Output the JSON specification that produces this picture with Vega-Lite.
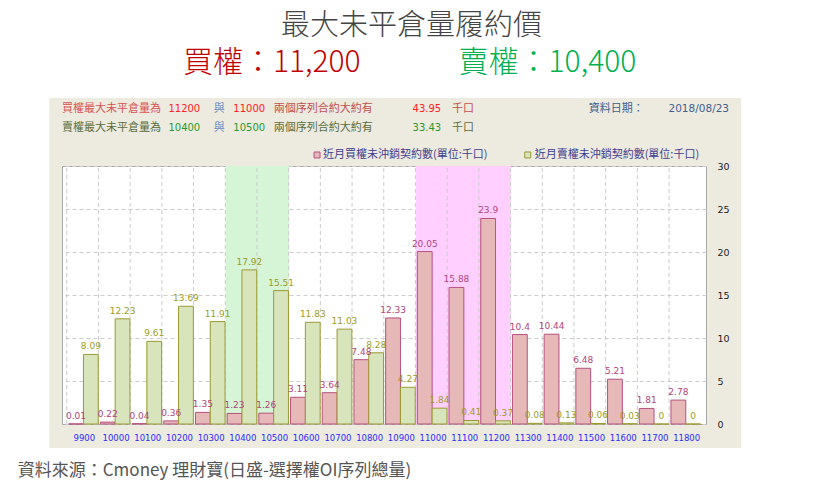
{
  "$schema": "https://vega.github.io/schema/vega-lite/v6.json",
  "width": 644,
  "height": 258,
  "autosize": {"type": "none"},
  "padding": {"left": 62, "top": 166, "right": 114, "bottom": 71},
  "background": "#EDEAE0",
  "view": {"fill": "white", "stroke": "#a8a8a8"},
  "data": {
    "values": [
      {"strike": 9900, "call": 0.01, "put": 8.09},
      {"strike": 10000, "call": 0.22, "put": 12.23},
      {"strike": 10100, "call": 0.04, "put": 9.61},
      {"strike": 10200, "call": 0.36, "put": 13.69},
      {"strike": 10300, "call": 1.35, "put": 11.91},
      {"strike": 10400, "call": 1.23, "put": 17.92},
      {"strike": 10500, "call": 1.26, "put": 15.51},
      {"strike": 10600, "call": 3.11, "put": 11.83},
      {"strike": 10700, "call": 3.64, "put": 11.03},
      {"strike": 10800, "call": 7.48, "put": 8.28},
      {"strike": 10900, "call": 12.33, "put": 4.27},
      {"strike": 11000, "call": 20.05, "put": 1.84},
      {"strike": 11100, "call": 15.88, "put": 0.41},
      {"strike": 11200, "call": 23.9, "put": 0.37},
      {"strike": 11300, "call": 10.4, "put": 0.08},
      {"strike": 11400, "call": 10.44, "put": 0.13},
      {"strike": 11500, "call": 6.48, "put": 0.06},
      {"strike": 11600, "call": 5.21, "put": 0.03},
      {"strike": 11700, "call": 1.81, "put": 0},
      {"strike": 11800, "call": 2.78, "put": 0}
    ]
  },
  "layer": [
    {
      "data": {"values": [{}]},
      "mark": {"type": "rect", "color": "white"},
      "encoding": {"x": {"datum": 9600}, "x2": {"datum": 12300}, "y": {"datum": 37.91}, "y2": {"datum": 50}}
    },
    {
      "data": {"values": [{}]},
      "mark": {"type": "rect", "color": "white"},
      "encoding": {"x": {"datum": 9600}, "x2": {"datum": 12300}, "y": {"datum": -2.79}, "y2": {"datum": -9}}
    },
    {
      "data": {"values": [{}]},
      "mark": {"type": "rect", "color": "white"},
      "encoding": {"x": {"datum": 9600}, "x2": {"datum": 9794}, "y": {"datum": -2.79}, "y2": {"datum": 37.91}}
    },
    {
      "data": {"values": [{}]},
      "mark": {"type": "rect", "color": "white"},
      "encoding": {"x": {"datum": 11977}, "x2": {"datum": 12300}, "y": {"datum": -2.79}, "y2": {"datum": 37.91}}
    },
    {
      "data": {"values": [{}]},
      "mark": {"type": "rect", "color": "#d6f5d6"},
      "encoding": {"x": {"datum": 10350}, "x2": {"datum": 10550}, "y": {"datum": 0}, "y2": {"datum": 30}}
    },
    {
      "data": {"values": [{}]},
      "mark": {"type": "rect", "color": "#ffd0ff"},
      "encoding": {"x": {"datum": 10950}, "x2": {"datum": 11250}, "y": {"datum": 0}, "y2": {"datum": 30}}
    },
    {
      "mark": {"type": "rule", "xOffset": -16.1, "color": "#cccccc", "strokeDash": [4, 3], "strokeWidth": 1},
      "encoding": {
        "x": {"field": "strike", "type": "quantitative"},
        "y": {"datum": 0},
        "y2": {"datum": 30}
      }
    },
    {
      "mark": {"type": "bar", "size": 14.8, "xOffset": -6.8, "fill": "#e6b9b8", "stroke": "#b5507e", "strokeWidth": 1},
      "encoding": {
        "x": {
          "field": "strike",
          "type": "quantitative",
          "title": null,
          "scale": {"domain": [9850, 11850], "nice": false, "zero": false},
          "axis": {"labels": false, "ticks": false, "domain": false, "grid": false}
        },
        "y": {
          "field": "call",
          "type": "quantitative",
          "title": null,
          "scale": {"domain": [0, 30], "nice": false},
          "axis": {
            "orient": "right",
            "values": [0, 5, 10, 15, 20, 25, 30],
            "grid": true,
            "gridDash": [4, 3],
            "gridColor": "#cccccc",
            "ticks": false,
            "domain": false,
            "labelFont": "DejaVu Sans",
            "labelFontSize": 9.5,
            "labelColor": "#222222",
            "labelPadding": 11,
            "labelFlush": false
          }
        }
      }
    },
    {
      "mark": {"type": "bar", "size": 14.8, "xOffset": 8.0, "fill": "#d8e4bc", "stroke": "#9a9a30", "strokeWidth": 1},
      "encoding": {
        "x": {"field": "strike", "type": "quantitative", "title": null},
        "y": {"field": "put", "type": "quantitative", "title": null}
      }
    },
    {
      "mark": {"type": "text", "xOffset": -6.8, "dy": -5, "baseline": "alphabetic", "font": "DejaVu Sans", "fontSize": 9, "color": "#b0457e"},
      "encoding": {
        "x": {"field": "strike", "type": "quantitative", "title": null},
        "y": {"field": "call", "type": "quantitative", "title": null},
        "text": {"field": "call", "type": "nominal"}
      }
    },
    {
      "mark": {"type": "text", "xOffset": 8.0, "dy": -5, "baseline": "alphabetic", "font": "DejaVu Sans", "fontSize": 9, "color": "#9c9c22"},
      "encoding": {
        "x": {"field": "strike", "type": "quantitative", "title": null},
        "y": {"field": "put", "type": "quantitative", "title": null},
        "text": {"field": "put", "type": "nominal"}
      }
    },
    {
      "mark": {"type": "text", "xOffset": 1.5, "font": "DejaVu Sans", "fontSize": 8.5, "color": "#2a2aff"},
      "encoding": {
        "x": {"field": "strike", "type": "quantitative", "title": null},
        "y": {"datum": -1.63},
        "text": {"field": "strike", "type": "nominal"}
      }
    },
    {
      "data": {"values": [{}]},
      "mark": {"type": "text", "text": "最大未平倉量履約價", "font": "Noto Sans CJK TC", "fontWeight": 300, "fontSize": 29, "color": "#444444"},
      "encoding": {"x": {"datum": 10937}, "y": {"datum": 46.28}}
    },
    {
      "data": {"values": [{}]},
      "mark": {"type": "text", "text": "買權：11,200", "font": "Noto Sans CJK TC", "fontWeight": 300, "fontSize": 30, "color": "#c00000"},
      "encoding": {"x": {"datum": 10496}, "y": {"datum": 41.98}}
    },
    {
      "data": {"values": [{}]},
      "mark": {"type": "text", "text": "賣權：10,400", "font": "Noto Sans CJK TC", "fontWeight": 300, "fontSize": 30, "color": "#00b050"},
      "encoding": {"x": {"datum": 11365.5}, "y": {"datum": 41.98}}
    },
    {
      "data": {"values": [{}]},
      "mark": {"type": "text", "text": "買權最大未平倉量為", "align": "left", "font": "Noto Sans CJK TC", "fontSize": 11, "color": "#d9534f"},
      "encoding": {"x": {"datum": 9834.5}, "y": {"datum": 36.63}}
    },
    {
      "data": {"values": [{}]},
      "mark": {"type": "text", "text": "11200", "align": "left", "font": "DejaVu Sans", "fontSize": 10, "color": "#ff2020"},
      "encoding": {"x": {"datum": 10169.9}, "y": {"datum": 36.63}}
    },
    {
      "data": {"values": [{}]},
      "mark": {"type": "text", "text": "與", "align": "left", "font": "Noto Sans CJK TC", "fontSize": 11, "color": "#6a8cc0"},
      "encoding": {"x": {"datum": 10312.7}, "y": {"datum": 36.63}}
    },
    {
      "data": {"values": [{}]},
      "mark": {"type": "text", "text": "11000", "align": "left", "font": "DejaVu Sans", "fontSize": 10, "color": "#ff2020"},
      "encoding": {"x": {"datum": 10374.8}, "y": {"datum": 36.63}}
    },
    {
      "data": {"values": [{}]},
      "mark": {"type": "text", "text": "兩個序列合約大約有", "align": "left", "font": "Noto Sans CJK TC", "fontSize": 11, "color": "#c0504d"},
      "encoding": {"x": {"datum": 10502.2}, "y": {"datum": 36.63}}
    },
    {
      "data": {"values": [{}]},
      "mark": {"type": "text", "text": "43.95", "align": "left", "font": "DejaVu Sans", "fontSize": 10, "color": "#ff2020"},
      "encoding": {"x": {"datum": 10940.1}, "y": {"datum": 36.63}}
    },
    {
      "data": {"values": [{}]},
      "mark": {"type": "text", "text": "千口", "align": "left", "font": "Noto Sans CJK TC", "fontSize": 11, "color": "#c0504d"},
      "encoding": {"x": {"datum": 11064.3}, "y": {"datum": 36.63}}
    },
    {
      "data": {"values": [{}]},
      "mark": {"type": "text", "text": "資料日期：", "align": "left", "font": "Noto Sans CJK TC", "fontSize": 11, "color": "#3f5f8f"},
      "encoding": {"x": {"datum": 11495.9}, "y": {"datum": 36.63}}
    },
    {
      "data": {"values": [{}]},
      "mark": {"type": "text", "text": "2018/08/23", "align": "left", "font": "DejaVu Sans", "fontSize": 10.5, "color": "#3f5f8f"},
      "encoding": {"x": {"datum": 11747.5}, "y": {"datum": 36.63}}
    },
    {
      "data": {"values": [{}]},
      "mark": {"type": "text", "text": "賣權最大未平倉量為", "align": "left", "font": "Noto Sans CJK TC", "fontSize": 11, "color": "#5a6e3a"},
      "encoding": {"x": {"datum": 9834.5}, "y": {"datum": 34.42}}
    },
    {
      "data": {"values": [{}]},
      "mark": {"type": "text", "text": "10400", "align": "left", "font": "DejaVu Sans", "fontSize": 10, "color": "#2a9a2a"},
      "encoding": {"x": {"datum": 10169.9}, "y": {"datum": 34.42}}
    },
    {
      "data": {"values": [{}]},
      "mark": {"type": "text", "text": "與", "align": "left", "font": "Noto Sans CJK TC", "fontSize": 11, "color": "#6a8cc0"},
      "encoding": {"x": {"datum": 10312.7}, "y": {"datum": 34.42}}
    },
    {
      "data": {"values": [{}]},
      "mark": {"type": "text", "text": "10500", "align": "left", "font": "DejaVu Sans", "fontSize": 10, "color": "#2a9a2a"},
      "encoding": {"x": {"datum": 10374.8}, "y": {"datum": 34.42}}
    },
    {
      "data": {"values": [{}]},
      "mark": {"type": "text", "text": "兩個序列合約大約有", "align": "left", "font": "Noto Sans CJK TC", "fontSize": 11, "color": "#5a6e3a"},
      "encoding": {"x": {"datum": 10502.2}, "y": {"datum": 34.42}}
    },
    {
      "data": {"values": [{}]},
      "mark": {"type": "text", "text": "33.43", "align": "left", "font": "DejaVu Sans", "fontSize": 10, "color": "#2a9a2a"},
      "encoding": {"x": {"datum": 10940.1}, "y": {"datum": 34.42}}
    },
    {
      "data": {"values": [{}]},
      "mark": {"type": "text", "text": "千口", "align": "left", "font": "Noto Sans CJK TC", "fontSize": 11, "color": "#5a6e3a"},
      "encoding": {"x": {"datum": 11064.3}, "y": {"datum": 34.42}}
    },
    {
      "data": {"values": [{}]},
      "mark": {"type": "square", "size": 36, "fill": "#e6b9b8", "stroke": "#b5507e", "strokeWidth": 1, "opacity": 1},
      "encoding": {"x": {"datum": 10638.8}, "y": {"datum": 31.28}}
    },
    {
      "data": {"values": [{}]},
      "mark": {"type": "text", "text": "近月買權未沖銷契約數(單位:千口)", "align": "left", "font": "Noto Sans CJK TC", "fontSize": 11, "color": "#3d3d8f"},
      "encoding": {"x": {"datum": 10657.5}, "y": {"datum": 31.28}}
    },
    {
      "data": {"values": [{}]},
      "mark": {"type": "square", "size": 36, "fill": "#d8e4bc", "stroke": "#9a9a30", "strokeWidth": 1, "opacity": 1},
      "encoding": {"x": {"datum": 11303.4}, "y": {"datum": 31.28}}
    },
    {
      "data": {"values": [{}]},
      "mark": {"type": "text", "text": "近月賣權未沖銷契約數(單位:千口)", "align": "left", "font": "Noto Sans CJK TC", "fontSize": 11, "color": "#3d3d8f"},
      "encoding": {"x": {"datum": 11325.2}, "y": {"datum": 31.28}}
    },
    {
      "data": {"values": [{}]},
      "mark": {"type": "text", "text": "資料來源：Cmoney 理財寶(日盛-選擇權OI序列總量)", "align": "left", "font": "Noto Sans CJK TC", "fontSize": 17, "color": "#555555"},
      "encoding": {"x": {"datum": 9694.7}, "y": {"datum": -5.47}}
    }
  ]
}
